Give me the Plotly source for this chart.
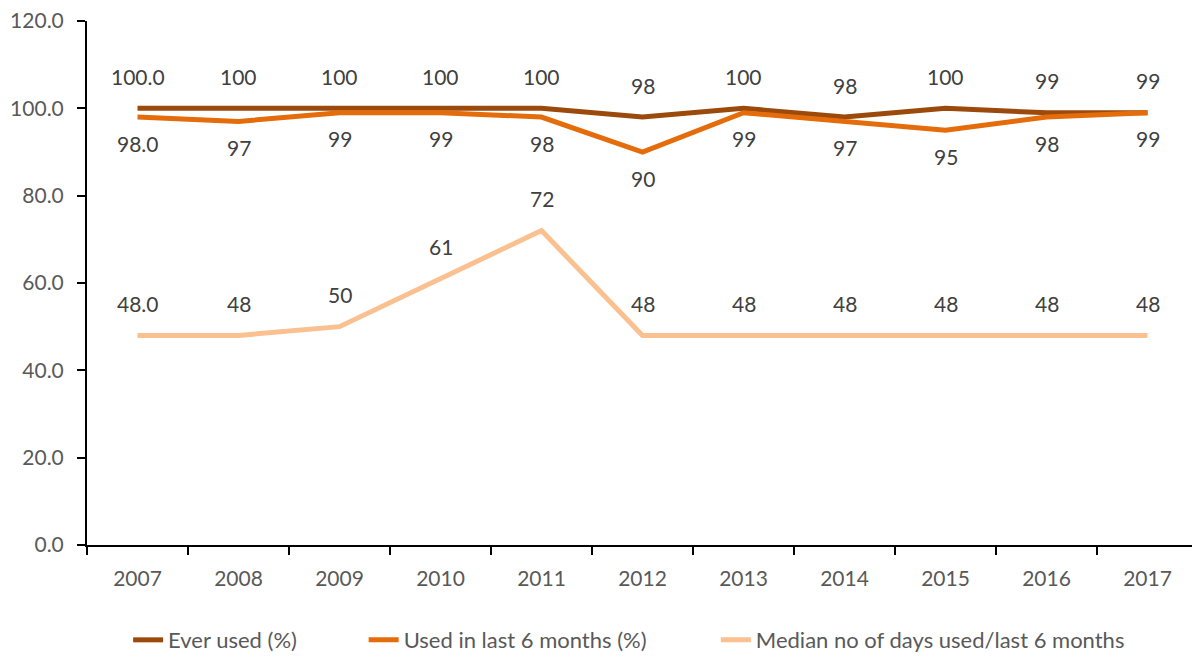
import plotly.graph_objects as go

years = ["2007", "2008", "2009", "2010", "2011", "2012", "2013", "2014", "2015", "2016", "2017"]
ever_used = [100, 100, 100, 100, 100, 98, 100, 98, 100, 99, 99]
used_6m = [98, 97, 99, 99, 98, 90, 99, 97, 95, 98, 99]
median_days = [48, 48, 50, 61, 72, 48, 48, 48, 48, 48, 48]

ever_labels = ["100.0", "100", "100", "100", "100", "98", "100", "98", "100", "99", "99"]
used_labels = ["98.0", "97", "99", "99", "98", "90", "99", "97", "95", "98", "99"]
median_labels = ["48.0", "48", "50", "61", "72", "48", "48", "48", "48", "48", "48"]

FONT = "Lato, Open Sans, sans-serif"
FS = 21
c_ever = "#9C4A0C"
c_used = "#E46C0A"
c_med = "#FAC090"

fig = go.Figure()
fig.add_trace(go.Scatter(x=years, y=ever_used, mode="lines", name="Ever used (%)",
                         line=dict(color=c_ever, width=5), legend="legend"))
fig.add_trace(go.Scatter(x=years, y=used_6m, mode="lines", name="Used in last 6 months (%)",
                         line=dict(color=c_used, width=5), legend="legend2"))
fig.add_trace(go.Scatter(x=years, y=median_days, mode="lines",
                         name="Median no of days used/last 6 months",
                         line=dict(color=c_med, width=5), legend="legend3"))

ann = []
for i, (y, t) in enumerate(zip(ever_used, ever_labels)):
    ann.append(dict(x=i, y=y, text=t, showarrow=False, yshift=32))
for i, (y, t) in enumerate(zip(used_6m, used_labels)):
    ann.append(dict(x=i, y=y, text=t, showarrow=False, yshift=-26))
for i, (y, t) in enumerate(zip(median_days, median_labels)):
    ann.append(dict(x=i, y=y, text=t, showarrow=False, yshift=32))
for a in ann:
    a["xref"] = "x"
    a["yref"] = "y"
    a["font"] = dict(family=FONT, size=FS, color="#404040")

leg_common = dict(orientation="h", yref="container", y=0.038, yanchor="middle",
                  font=dict(family=FONT, size=22, color="#595959"),
                  bgcolor="rgba(0,0,0,0)", xanchor="left")

fig.update_layout(
    width=1200, height=657,
    margin=dict(l=79, r=10, t=13, b=120),
    plot_bgcolor="white", paper_bgcolor="white",
    annotations=ann,
    font=dict(family=FONT, size=FS, color="#595959"),
    legend=dict(x=0.037, **leg_common),
    legend2=dict(x=0.249, **leg_common),
    legend3=dict(x=0.566, **leg_common),
    showlegend=True,
)
fig.update_xaxes(type="category", range=[-0.5, 10.5], showline=True, linecolor="black",
                 linewidth=2, ticks="outside", tickson="boundaries", ticklen=8,
                 tickcolor="black", tickwidth=2, showgrid=False, automargin=False,
                 ticklabelstandoff=14,
                 tickfont=dict(family=FONT, size=FS, color="#595959"))
fig.update_yaxes(range=[0, 120], dtick=20, tickformat=".1f", showline=True, linecolor="black",
                 linewidth=2, ticks="outside", ticklen=8, tickcolor="black", tickwidth=2,
                 showgrid=False, zeroline=False, automargin=False, ticklabeloverflow="allow",
                 ticklabelstandoff=9,
                 tickfont=dict(family=FONT, size=FS, color="#595959"))

fig.write_html("out.html")
